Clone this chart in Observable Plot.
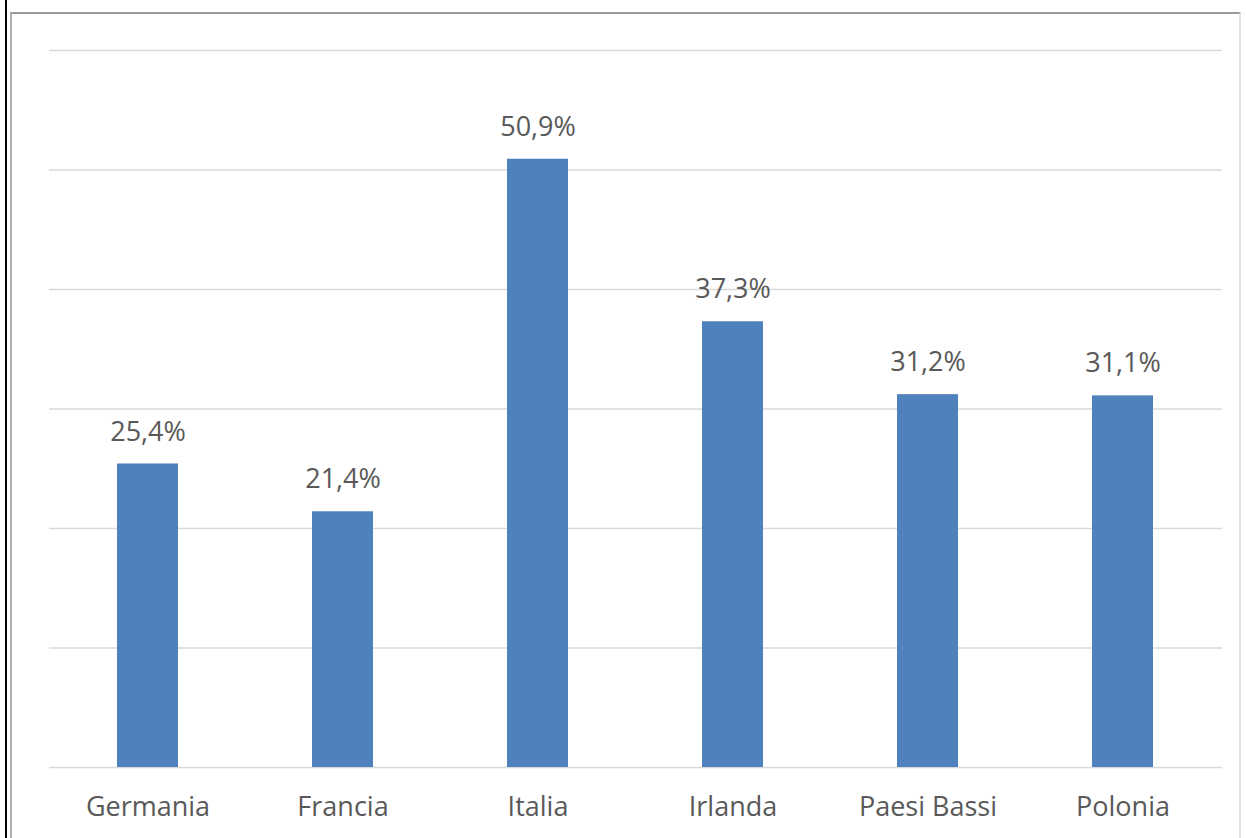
<!DOCTYPE html>
<html>
<head>
<meta charset="utf-8">
<script src="https://cdn.jsdelivr.net/npm/d3@7"></script>
<script src="https://cdn.jsdelivr.net/npm/@observablehq/plot@0.6"></script>
<style>
  html, body { margin: 0; padding: 0; background: #fff; }
  #wrap { position: relative; width: 1246px; height: 838px; overflow: hidden; background: #fff; }
  #blackline { position: absolute; left: 5px; top: 0; width: 2px; height: 838px; background: #000; }
  #frame { position: absolute; left: 10px; top: 12px; width: 1231px; height: 840px;
           border-top: 2px solid #9a9a9a; border-left: 2px solid #b0b0b0; border-right: 2px solid #e2e2e2; box-sizing: border-box; }
  #chart { position: absolute; left: 0; top: 0; }
</style>
</head>
<body>
<div id="wrap">
  <div id="blackline"></div>
  <div id="frame"></div>
  <div id="chart"></div>
</div>
<script>
const categories = ["Germania", "Francia", "Italia", "Irlanda", "Paesi Bassi", "Polonia"];
const values = [25.4, 21.4, 50.9, 37.3, 31.2, 31.1];
const gridTicks = [0, 10, 20, 30, 40, 50, 60];

const data = categories.map((c, i) => ({category: c, value: values[i]}));
const fmt = v => v.toFixed(1).replace(".", ",") + "%";
const FONT = "'Open Sans', 'Noto Sans', sans-serif";

const chart = Plot.plot({
  width: 1246,
  height: 838,
  marginLeft: 49,
  marginRight: 24,
  marginTop: 50,
  marginBottom: 71,
  style: {fontFamily: FONT, background: "transparent", overflow: "visible"},
  x: {domain: categories, paddingInner: 0.687, paddingOuter: 0.35, label: null},
  y: {domain: [0, 60], axis: null},
  marks: [
    Plot.ruleY(gridTicks, {stroke: "#d9d9d9", strokeWidth: 1.5}),
    Plot.barY(data, {x: "category", y: "value", fill: "#4f81bd"}),
    Plot.text(data, {x: "category", y: "value", text: d => fmt(d.value), dy: -32,
      lineAnchor: "middle", fontSize: 27, fill: "#595959", fontFamily: FONT}),
    Plot.axisX({tickSize: 0, tickPadding: 29, fontSize: 27, color: "#595959", label: null, fontFamily: FONT})
  ]
});
document.getElementById("chart").appendChild(chart);
</script>
</body>
</html>
